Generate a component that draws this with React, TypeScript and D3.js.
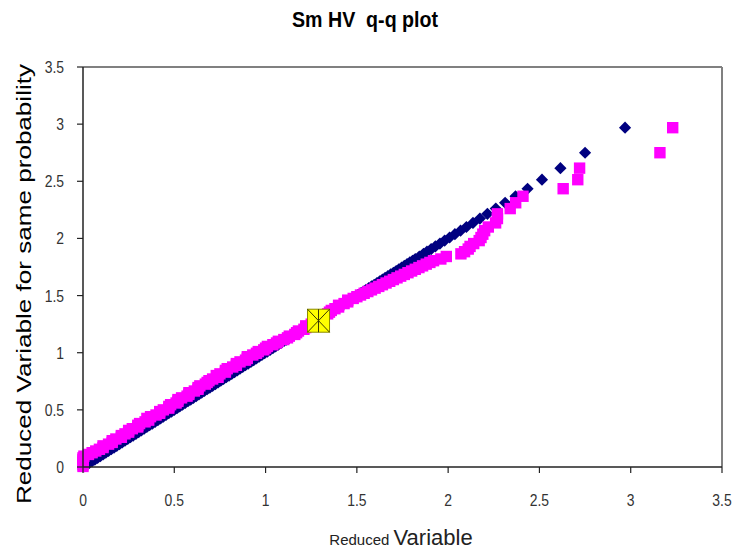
import React from "react";
import * as d3 from "d3";

// Theoretical reduced variable (same probability) – y of both series
const reducedY = [
  0.005, 0.02, 0.035, 0.05, 0.065, 0.08, 0.095, 0.11, 0.125, 0.14,
  0.155, 0.17, 0.185, 0.2, 0.215, 0.23, 0.245, 0.26, 0.275, 0.29,
  0.305, 0.32, 0.335, 0.35, 0.365, 0.38, 0.395, 0.41, 0.425, 0.44,
  0.455, 0.47, 0.485, 0.5, 0.515, 0.53, 0.545, 0.56, 0.575, 0.59,
  0.605, 0.62, 0.635, 0.65, 0.665, 0.68, 0.695, 0.71, 0.725, 0.74,
  0.755, 0.77, 0.785, 0.8, 0.815, 0.83, 0.845, 0.86, 0.875, 0.89,
  0.905, 0.92, 0.935, 0.95, 0.965, 0.98, 0.995, 1.01, 1.025, 1.04,
  1.055, 1.07, 1.085, 1.1, 1.115, 1.13, 1.145, 1.16, 1.175, 1.19,
  1.205, 1.22, 1.235, 1.25, 1.265, 1.28, 1.295, 1.31, 1.325, 1.34,
  1.355, 1.37, 1.385, 1.4, 1.415, 1.43, 1.445, 1.46, 1.475, 1.49,
  1.505, 1.52, 1.535, 1.55, 1.565, 1.58, 1.595, 1.61, 1.625, 1.64,
  1.655, 1.67, 1.685, 1.7, 1.715, 1.73, 1.745, 1.76, 1.775, 1.79,
  1.805, 1.82, 1.842, 1.865, 1.884, 1.907, 1.93, 1.955, 1.981, 2.008,
  2.037, 2.068, 2.1, 2.136, 2.174, 2.215, 2.261, 2.312, 2.369, 2.435,
  2.514, 2.615, 2.75, 2.969,
];

// Series 1 (navy diamonds): reduced variable of the reference distribution
const referenceX = [
  0.005, 0.02, 0.035, 0.05, 0.065, 0.08, 0.095, 0.11, 0.125, 0.14,
  0.155, 0.17, 0.185, 0.2, 0.215, 0.23, 0.245, 0.26, 0.275, 0.29,
  0.305, 0.32, 0.335, 0.35, 0.365, 0.38, 0.395, 0.41, 0.425, 0.44,
  0.455, 0.47, 0.485, 0.5, 0.515, 0.53, 0.545, 0.56, 0.575, 0.59,
  0.605, 0.62, 0.635, 0.65, 0.665, 0.68, 0.695, 0.71, 0.725, 0.74,
  0.755, 0.77, 0.785, 0.8, 0.815, 0.83, 0.845, 0.86, 0.875, 0.89,
  0.905, 0.92, 0.935, 0.95, 0.965, 0.98, 0.995, 1.01, 1.025, 1.04,
  1.055, 1.07, 1.085, 1.1, 1.115, 1.13, 1.145, 1.16, 1.175, 1.19,
  1.205, 1.22, 1.235, 1.25, 1.265, 1.28, 1.295, 1.31, 1.325, 1.34,
  1.355, 1.37, 1.385, 1.4, 1.415, 1.43, 1.445, 1.46, 1.475, 1.49,
  1.505, 1.52, 1.535, 1.55, 1.565, 1.58, 1.595, 1.61, 1.625, 1.64,
  1.655, 1.67, 1.685, 1.7, 1.715, 1.73, 1.745, 1.76, 1.775, 1.79,
  1.805, 1.82, 1.842, 1.865, 1.884, 1.907, 1.93, 1.955, 1.981, 2.008,
  2.037, 2.068, 2.1, 2.136, 2.174, 2.215, 2.261, 2.312, 2.369, 2.435,
  2.514, 2.615, 2.75, 2.969,
];

// Series 2 (magenta squares): observed Sm HV reduced variable
const observedX = [
  0.0, 0.0, 0.0, 0.0, 0.0, 0.0, 0.005, 0.03, 0.05, 0.07,
  0.09, 0.11, 0.11, 0.14, 0.16, 0.16, 0.18, 0.21, 0.21, 0.23,
  0.25, 0.25, 0.27, 0.3, 0.3, 0.31, 0.34, 0.36, 0.35, 0.37,
  0.4, 0.42, 0.42, 0.44, 0.47, 0.47, 0.48, 0.51, 0.52, 0.52,
  0.54, 0.57, 0.58, 0.58, 0.61, 0.63, 0.63, 0.64, 0.67, 0.68,
  0.69, 0.71, 0.74, 0.73, 0.75, 0.78, 0.78, 0.79, 0.82, 0.84,
  0.84, 0.86, 0.89, 0.9, 0.9, 0.93, 0.95, 0.96, 0.99, 1.0,
  1.01, 1.04, 1.06, 1.07, 1.1, 1.12, 1.13, 1.16, 1.17, 1.18,
  1.21, 1.22, 1.22, 1.25, 1.27, 1.27, 1.29, 1.31, 1.31, 1.34,
  1.35, 1.36, 1.38, 1.4, 1.4, 1.43, 1.45, 1.45, 1.48, 1.5,
  1.52, 1.54, 1.56, 1.58, 1.6, 1.62, 1.64, 1.66, 1.68, 1.7,
  1.72, 1.74, 1.76, 1.78, 1.8, 1.82, 1.84, 1.86, 1.88, 1.9,
  1.92, 1.96, 1.99, 2.07, 2.09, 2.11, 2.12, 2.14, 2.17, 2.18,
  2.19, 2.2, 2.22, 2.26, 2.27, 2.27, 2.34, 2.37, 2.41, 2.63,
  2.71, 2.72, 3.16, 3.23,
];

// Highlighted point (yellow square with star)
const highlightX = [1.29];
const highlightY = [1.28];

const tickValues = [0, 0.5, 1, 1.5, 2, 2.5, 3, 3.5];
const tickLabels = ["0", "0.5", "1", "1.5", "2", "2.5", "3", "3.5"];

const W = 736;
const H = 550;
const left = 83;
const right = 722;
const top = 67;
const bottom = 467;

const FONT = "'Liberation Sans', Arial, sans-serif";

export default function App() {
  const x = d3.scaleLinear().domain([0, 3.5]).range([left, right]);
  const y = d3.scaleLinear().domain([0, 3.5]).range([bottom, top]);

  const diamond = d3.symbol().type(d3.symbolSquare).size(74)();
  const square = d3.symbol().type(d3.symbolSquare).size(130)();

  const hx = x(highlightX[0]);
  const hy = y(highlightY[0]);
  const hw = 11;
  const hh = 11.5;

  return (
    <svg
      width={W}
      height={H}
      style={{ position: "absolute", left: 0, top: 0, background: "#fff" }}
    >
      <rect x={0} y={0} width={W} height={H} fill="#fff" />
      {/* Title */}
      <text
        x={365}
        y={27}
        textAnchor="middle"
        fontFamily={FONT}
        fontWeight="bold"
        fontSize={22}
        textLength={146}
        lengthAdjust="spacingAndGlyphs"
        style={{ whiteSpace: "pre" }}
        fill="#000"
      >
        Sm HV  q-q plot
      </text>

      {/* plot border top/right */}
      <line x1={left} x2={right} y1={top} y2={top} stroke="#808080" strokeWidth={2} />
      <line x1={right} x2={right} y1={top} y2={bottom} stroke="#808080" strokeWidth={2} />

      {/* series 1: navy diamonds */}
      <g>
        {reducedY.map((v, i) => (
          <path
            key={"b" + i}
            d={diamond}
            transform={`translate(${x(referenceX[i])},${y(v)}) rotate(45)`}
            fill="#000080"
          />
        ))}
      </g>
      {/* series 2: magenta squares */}
      <g>
        {reducedY.map((v, i) => (
          <path
            key={"m" + i}
            d={square}
            transform={`translate(${x(observedX[i])},${y(v)})`}
            fill="#FF00FF"
          />
        ))}
      </g>

      {/* highlight marker */}
      <g>
        <rect
          x={hx - hw}
          y={hy - hh}
          width={hw * 2}
          height={hh * 2}
          fill="#FFFF00"
          stroke="#8a8a00"
          strokeWidth={1}
        />
        <line x1={hx} x2={hx} y1={hy - hh} y2={hy + hh} stroke="#3a3a00" strokeWidth={1} />
        <line x1={hx - hw} x2={hx + hw} y1={hy - hh} y2={hy + hh} stroke="#3a3a00" strokeWidth={1} />
        <line x1={hx - hw} x2={hx + hw} y1={hy + hh} y2={hy - hh} stroke="#3a3a00" strokeWidth={1} />
      </g>

      {/* axes */}
      <line x1={left} x2={right} y1={bottom} y2={bottom} stroke="#222" strokeWidth={1.5} />
      <line x1={left} x2={left} y1={top} y2={bottom} stroke="#222" strokeWidth={1.5} />
      {tickValues.map((t, i) => (
        <g key={"xt" + i}>
          <line x1={x(t)} x2={x(t)} y1={bottom} y2={bottom + 6} stroke="#222" strokeWidth={1.2} />
          <text
            transform={`translate(${x(t)},${bottom + 39}) scale(0.82,1)`}
            textAnchor="middle"
            fontFamily={FONT}
            fontSize={17}
            fill="#333"
          >
            {tickLabels[i]}
          </text>
        </g>
      ))}
      {tickValues.map((t, i) => (
        <g key={"yt" + i}>
          <line x1={left - 6} x2={left} y1={y(t)} y2={y(t)} stroke="#222" strokeWidth={1.2} />
          <text
            transform={`translate(${left - 19},${y(t) + 6}) scale(0.82,1)`}
            textAnchor="end"
            fontFamily={FONT}
            fontSize={17}
            fill="#333"
          >
            {tickLabels[i]}
          </text>
        </g>
      ))}

      {/* axis titles */}
      <text x={401} y={545} textAnchor="middle" fontFamily={FONT} fill="#222">
        <tspan fontSize={15}>Reduced </tspan>
        <tspan fontSize={22}>Variable</tspan>
      </text>
      <text
        transform="translate(31,284) rotate(-90)"
        textAnchor="middle"
        fontFamily={FONT}
        fontSize={21}
        textLength={440}
        lengthAdjust="spacingAndGlyphs"
        fill="#000"
      >
        Reduced Variable for same probability
      </text>
    </svg>
  );
}
